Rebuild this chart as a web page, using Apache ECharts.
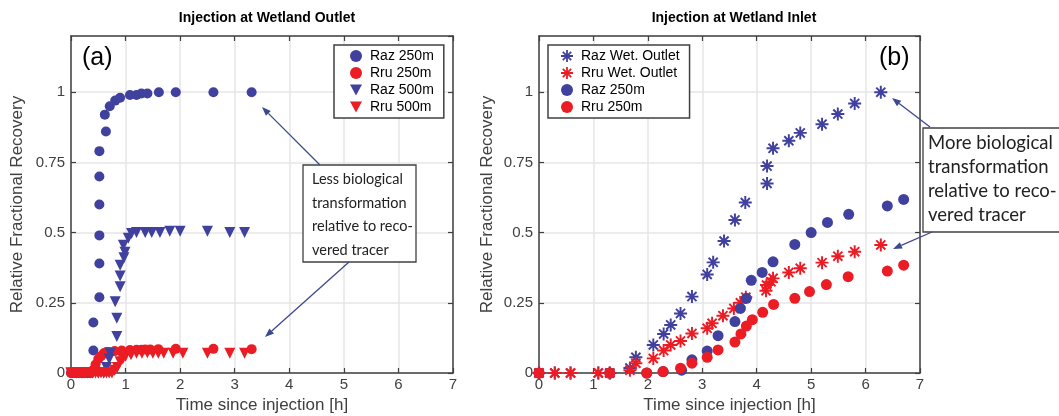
<!DOCTYPE html>
<html>
<head>
<meta charset="utf-8">
<script src="https://cdn.jsdelivr.net/npm/echarts@6/dist/echarts.min.js"></script>
<style>
html, body { margin: 0; padding: 0; background: #fff; }
#chart { width: 1059px; height: 416px; }
</style>
</head>
<body>
<div id="chart"></div>
<script>
// ---- data (time [h], relative fractional recovery) ----
// (a) injection at wetland outlet
const aRaz250T = [0, 0.05, 0.1, 0.15, 0.2, 0.25, 0.3, 0.35, 0.41, 0.41, 0.52, 0.52, 0.52, 0.52, 0.52, 0.52, 0.64, 0.62, 0.71, 0.81, 0.9, 1.08, 1.2, 1.29, 1.4, 1.61, 1.92, 2.61, 3.31]
const aRaz250Y = [0, 0, 0, 0, 0, 0, 0, 0, 0.08, 0.18, 0.27, 0.39, 0.49, 0.6, 0.7, 0.79, 0.86, 0.92, 0.95, 0.97, 0.98, 0.99, 0.99, 0.995, 0.995, 1, 1, 1, 1]
const aRru250T = [0, 0.05, 0.1, 0.15, 0.2, 0.25, 0.3, 0.35, 0.4, 0.45, 0.5, 0.55, 0.6, 0.65, 0.7, 0.8, 0.93, 1.08, 1.2, 1.29, 1.36, 1.45, 1.6, 1.92, 2.61, 3.31]
const aRru250Y = [0, 0, 0, 0, 0, 0, 0, 0, 0.01, 0.03, 0.05, 0.06, 0.07, 0.075, 0.075, 0.078, 0.08, 0.082, 0.083, 0.083, 0.084, 0.084, 0.085, 0.086, 0.086, 0.085]
const aRaz500T = [0, 0.1, 0.2, 0.3, 0.4, 0.5, 0.6, 0.65, 0.7, 0.72, 0.84, 0.84, 0.81, 0.9, 0.9, 0.9, 0.97, 0.99, 0.96, 1.05, 1.11, 1.2, 1.36, 1.48, 1.63, 1.81, 2.0, 2.5, 2.91, 3.18]
const aRaz500Y = [0, 0, 0, 0, 0, 0, 0, 0.02, 0.05, 0.07, 0.13, 0.195, 0.254, 0.307, 0.345, 0.384, 0.41, 0.43, 0.455, 0.48, 0.497, 0.5, 0.5, 0.5, 0.5, 0.505, 0.505, 0.505, 0.5, 0.5]
const aRru500T = [0, 0.05, 0.1, 0.15, 0.2, 0.25, 0.3, 0.35, 0.4, 0.45, 0.5, 0.55, 0.6, 0.65, 0.7, 0.75, 0.8, 0.85, 0.9, 0.95, 1.0, 1.1, 1.2, 1.3, 1.4, 1.5, 1.6, 1.7, 1.87, 2.05, 2.5, 2.91, 3.18]
const aRru500Y = [0, 0, 0, 0, 0, 0, 0, 0, 0, 0, 0, 0, 0, 0, 0, 0, 0.01, 0.02, 0.04, 0.05, 0.06, 0.065, 0.07, 0.07, 0.072, 0.07, 0.07, 0.07, 0.07, 0.07, 0.07, 0.07, 0.07]

// (b) injection at wetland inlet
const bRazWetT = [0, 0.29, 0.58, 1.09, 1.3, 1.67, 1.78, 2.1, 2.29, 2.42, 2.6, 2.81, 3.09, 3.2, 3.4, 3.6, 3.79, 4.19, 4.19, 4.3, 4.59, 4.8, 5.2, 5.49, 5.8, 6.28]
const bRazWetY = [0, 0, 0, 0, 0, 0.018, 0.056, 0.1, 0.139, 0.171, 0.212, 0.272, 0.351, 0.394, 0.47, 0.545, 0.607, 0.675, 0.737, 0.8, 0.827, 0.855, 0.886, 0.922, 0.96, 1.0]
const bRruWetT = [0, 0.29, 0.58, 1.09, 1.3, 1.67, 1.78, 2.1, 2.29, 2.42, 2.6, 2.81, 3.09, 3.18, 3.38, 3.58, 3.7, 3.8, 4.17, 4.18, 4.26, 4.3, 4.59, 4.8, 5.2, 5.49, 5.8, 6.28]
const bRruWetY = [0, 0, 0, 0, 0, 0.01, 0.035, 0.052, 0.08, 0.1, 0.114, 0.141, 0.159, 0.177, 0.204, 0.23, 0.25, 0.27, 0.293, 0.313, 0.325, 0.337, 0.358, 0.373, 0.393, 0.416, 0.432, 0.456]
const bRaz250T = [0, 1.3, 1.98, 2.28, 2.62, 2.81, 3.09, 3.29, 3.6, 3.7, 3.81, 3.9, 4.1, 4.3, 4.7, 5.0, 5.3, 5.69, 6.4, 6.7]
const bRaz250Y = [0, 0, 0, 0.005, 0.01, 0.047, 0.078, 0.133, 0.183, 0.23, 0.266, 0.33, 0.358, 0.396, 0.458, 0.5, 0.536, 0.565, 0.595, 0.618]
const bRru250T = [0, 1.3, 1.98, 2.28, 2.6, 2.81, 3.09, 3.29, 3.6, 3.71, 3.81, 3.92, 4.11, 4.31, 4.7, 4.97, 5.28, 5.68, 6.4, 6.7]
const bRru250Y = [0, 0, 0, 0.005, 0.017, 0.035, 0.056, 0.082, 0.11, 0.139, 0.167, 0.19, 0.216, 0.244, 0.266, 0.29, 0.315, 0.343, 0.363, 0.384]

const legendA = ['Raz 250m', 'Rru 250m', 'Raz 500m', 'Rru 500m']
const legendB = ['Raz Wet. Outlet', 'Rru Wet. Outlet', 'Raz 250m', 'Rru 250m']

// ---- styles ----
const blue = '#40409e'
const red = '#ec1c24'
const axisColor = '#404040'
const gridColor = '#e6e6e6'
const font = 'Liberation Sans, Arial, sans-serif'
const noteFont = 'Lato, Open Sans, sans-serif'
// 8-spoke asterisk as a filled path
const asterisk = 'path://M0 8.5L20 8.5L20 11.5L0 11.5Z M8.5 0L11.5 0L11.5 20L8.5 20Z M4.06 1.94L18.06 15.94L15.94 18.06L1.94 4.06Z M18.06 4.06L4.06 18.06L1.94 15.94L15.94 1.94Z'
const triDown = 'path://M0 0L20 0L10 18Z'

const zip = (t, y) => t.map((v, i) => [v, y[i]])

const xBottom = (g) => ({
	gridIndex: g, type: 'value', min: 0, max: 7, interval: 1,
	axisLine: { show: true, onZero: false, lineStyle: { color: axisColor, width: 1.5 } },
	axisTick: { inside: true, length: 5, lineStyle: { color: axisColor, width: 1.2 } },
	axisLabel: { fontSize: 15, color: axisColor, margin: 4, fontFamily: font },
	splitLine: { show: true, lineStyle: { color: gridColor, width: 1.5 } },
	name: 'Time since injection [h]', nameLocation: 'middle', nameGap: 24,
	nameTextStyle: { fontSize: 17, color: axisColor, fontFamily: font }
})
const xTop = (g) => ({
	gridIndex: g, type: 'value', min: 0, max: 7, interval: 1, position: 'top',
	axisLine: { show: true, onZero: false, lineStyle: { color: axisColor, width: 1.5 } },
	axisTick: { inside: true, length: 5, lineStyle: { color: axisColor, width: 1.2 } },
	axisLabel: { show: false }, splitLine: { show: false }
})
const yLeft = (g, gap) => ({
	gridIndex: g, type: 'value', min: 0, max: 1.2, interval: 0.25,
	axisLine: { show: true, onZero: false, lineStyle: { color: axisColor, width: 1.5 } },
	axisTick: { inside: true, length: 5, lineStyle: { color: axisColor, width: 1.2 } },
	axisLabel: { fontSize: 15, color: axisColor, margin: 6, fontFamily: font, showMaxLabel: false },
	splitLine: { show: true, lineStyle: { color: gridColor, width: 1.5 } },
	name: 'Relative Fractional Recovery', nameLocation: 'middle', nameGap: gap,
	nameTextStyle: { fontSize: 17, color: axisColor, fontFamily: font }
})
const yRight = (g) => ({
	gridIndex: g, type: 'value', min: 0, max: 1.2, interval: 0.25, position: 'right',
	axisLine: { show: true, onZero: false, lineStyle: { color: axisColor, width: 1.5 } },
	axisTick: { inside: true, length: 5, lineStyle: { color: axisColor, width: 1.2 } },
	axisLabel: { show: false }, splitLine: { show: false }
})

const scatter = (name, axis, data, symbol, size, color, rotate) => ({
	type: 'scatter', name: name, xAxisIndex: axis, yAxisIndex: axis,
	data: data, symbol: symbol, symbolSize: size, symbolRotate: rotate || 0,
	itemStyle: { color: color, opacity: 1 }, clip: false
})

const legendItems = (names) => names.map((n) => (n.indexOf('500m') > 0 ? { name: n, icon: triDown } : { name: n }))
const legend = (data, left, top, padLeft) => ({
	data: legendItems(data), left: left, top: top, orient: 'vertical', selectedMode: false,
	itemGap: 3, itemWidth: 12, itemHeight: 12, padding: [4, 10, 4, padLeft],
	borderColor: axisColor, borderWidth: 1.5, backgroundColor: '#fff', borderRadius: 0,
	textStyle: { fontSize: 14, color: '#000', fontFamily: font, padding: [0, 0, 0, 3] }
})

const arrowColor = '#3b4a8e'
const arrow = (x1, y1, x2, y2) => {
	const a = Math.atan2(y2 - y1, x2 - x1), L = 9, W = 3.5
	const bx = x2 - L * Math.cos(a), by = y2 - L * Math.sin(a)
	return [
		{ type: 'line', z: 100, shape: { x1: x1, y1: y1, x2: bx, y2: by }, style: { stroke: arrowColor, lineWidth: 1.3 } },
		{ type: 'polygon', z: 100, shape: { points: [[x2, y2], [bx + W * Math.sin(a), by - W * Math.cos(a)], [bx - W * Math.sin(a), by + W * Math.cos(a)]] }, style: { fill: arrowColor } }
	]
}
const noteBox = (x, y, w, h, lines, size, lh, pad) => [
	{ type: 'rect', z: 100, shape: { x: x, y: y, width: w, height: h }, style: { fill: '#fff', stroke: axisColor, lineWidth: 1.3 } },
	{ type: 'text', z: 101, x: x + pad, y: y + 3, style: { text: lines.join('\n'), font: size + 'px ' + noteFont, fill: '#222', lineHeight: lh } }
]

const option = {
	animation: false,
	backgroundColor: '#fff',
	title: [
		{ text: 'Injection at Wetland Outlet', left: 262, top: 6, textAlign: 'center', textStyle: { fontSize: 14, fontWeight: 'bold', color: '#000', fontFamily: font } },
		{ text: 'Injection at Wetland Inlet', left: 729, top: 6, textAlign: 'center', textStyle: { fontSize: 14, fontWeight: 'bold', color: '#000', fontFamily: font } }
	],
	grid: [
		{ left: 71, right: 606, top: 36, bottom: 43, outerBoundsMode: 'none' },
		{ left: 539, right: 139, top: 36, bottom: 43, outerBoundsMode: 'none' }
	],
	xAxis: [xBottom(0), xBottom(1), xTop(0), xTop(1)],
	yAxis: [yLeft(0, 45), yLeft(1, 43), yRight(0), yRight(1)],
	legend: [legend(legendA, 334, 45, 16), legend(legendB, 548, 45, 13)],
	series: [
		scatter('Raz 250m', 0, zip(aRaz250T, aRaz250Y), 'circle', 10, blue),
		scatter('Rru 250m', 0, zip(aRru250T, aRru250Y), 'circle', 10, red),
		scatter('Raz 500m', 0, zip(aRaz500T, aRaz500Y), 'triangle', 11, blue, 180),
		scatter('Rru 500m', 0, zip(aRru500T, aRru500Y), 'triangle', 11, red, 180),
		scatter('Raz Wet. Outlet', 1, zip(bRazWetT, bRazWetY), asterisk, 13, blue),
		scatter('Rru Wet. Outlet', 1, zip(bRruWetT, bRruWetY), asterisk, 13, red),
		scatter('Raz 250m', 1, zip(bRaz250T, bRaz250Y), 'circle', 11, blue),
		scatter('Rru 250m', 1, zip(bRru250T, bRru250Y), 'circle', 11, red)
	],
	graphic: [
		{ type: 'text', z: 100, x: 82, y: 46, style: { text: '(a)', font: '25px ' + font, fill: '#000' } },
		{ type: 'text', z: 100, x: 879, y: 46, style: { text: '(b)', font: '25px ' + font, fill: '#000' } }
	]
		.concat(noteBox(303, 165, 113, 97, ['Less biological', 'transformation', 'relative to reco-', 'vered tracer'], 14.5, 23.5, 9))
		.concat(arrow(320, 165, 262, 107))
		.concat(arrow(349, 262, 265, 337))
		.concat(noteBox(923, 128, 150, 104, ['More biological', 'transformation', 'relative to reco-', 'vered tracer'], 18.5, 24, 5))
		.concat(arrow(930, 127, 892, 98))
		.concat(arrow(932, 232, 893, 249))
}

const myChart = echarts.init(document.getElementById('chart'))
myChart.setOption(option)
</script>
</body>
</html>
